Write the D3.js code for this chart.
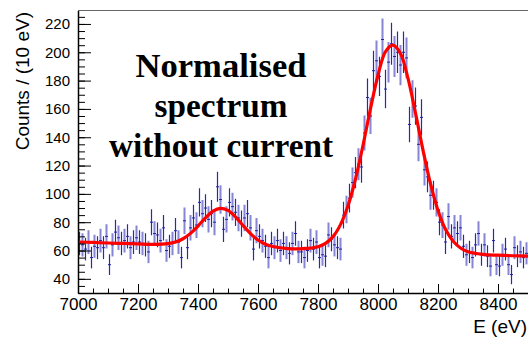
<!DOCTYPE html>
<html>
<head>
<meta charset="utf-8">
<script src="https://cdn.jsdelivr.net/npm/d3@7"></script>
<style>
  html, body { margin: 0; padding: 0; background: #fff; }
  svg { display: block; }
</style>
</head>
<body>
<svg id="chart" width="528" height="340"></svg>
<script>
// ---- data ----
const binStart = 7000;   // first bin lower edge (eV)
const binWidth = 10;     // eV per bin
const counts = [
  65, 64, 61, 66, 55, 63, 62, 67, 62, 70, 50, 64, 73, 69, 65, 67, 70, 62, 66, 69, 66, 65, 64, 59, 80,
  72, 71, 67, 76, 60, 63, 65, 74, 66, 55, 81, 62, 76, 83, 78, 94, 86, 90, 82, 86, 80, 105, 96, 75, 82,
  94, 91, 87, 83, 79, 83, 86, 76, 61, 74, 70, 67, 63, 55, 65, 62, 67, 60, 65, 62, 58, 65, 72, 59, 59,
  55, 60, 67, 61, 66, 55, 57, 56, 71, 68, 64, 62, 61, 85, 89, 97, 108, 115, 121, 119, 143, 168, 155, 187, 194,
  183, 209, 174, 193, 206, 197, 200, 191, 200, 196, 149, 167, 162, 135, 154, 117, 112, 99, 99, 94, 80, 78, 66, 84, 70,
  76, 72, 76, 63, 57, 59, 55, 64, 72, 57, 64, 56, 49, 67, 50, 49, 57, 61, 50, 43, 62, 56, 59, 55, 58
];
const errors = [
  8.3, 8.2, 8.0, 8.4, 7.6, 8.2, 8.1, 8.4, 8.1, 8.6, 7.3, 8.2, 8.8, 8.6, 8.3, 8.4, 8.6, 8.1, 8.4, 8.6, 8.4, 8.3, 8.2, 7.9, 9.2,
  8.7, 8.7, 8.4, 9.0, 8.0, 8.2, 8.3, 8.9, 8.4, 7.6, 9.3, 8.1, 9.0, 9.4, 9.1, 10.0, 9.6, 9.8, 9.3, 9.6, 9.2, 10.6, 10.1, 8.9, 9.3,
  10.0, 9.8, 9.6, 9.4, 9.2, 9.4, 9.6, 9.0, 8.0, 8.9, 8.6, 8.4, 8.2, 7.6, 8.3, 8.1, 8.4, 8.0, 8.3, 8.1, 7.8, 8.3, 8.7, 7.9, 7.9,
  7.6, 8.0, 8.4, 8.0, 8.4, 7.6, 7.8, 7.7, 8.7, 8.5, 8.2, 8.1, 8.0, 9.5, 9.7, 10.1, 10.7, 11.0, 11.3, 11.2, 12.3, 13.4, 12.8, 14.1, 14.3,
  13.9, 14.9, 13.6, 14.3, 14.8, 14.5, 14.6, 14.2, 14.6, 14.4, 12.6, 13.3, 13.1, 12.0, 12.8, 11.1, 10.9, 10.2, 10.2, 10.0, 9.2, 9.1, 8.4, 9.4, 8.6,
  9.0, 8.7, 9.0, 8.2, 7.8, 7.9, 7.6, 8.2, 8.7, 7.8, 8.2, 7.7, 7.2, 8.4, 7.3, 7.2, 7.8, 8.0, 7.3, 6.8, 8.1, 7.7, 7.9, 7.6, 7.8
];
const fitE = [7000, 7050, 7100, 7150, 7200, 7250, 7300, 7325, 7350, 7375, 7400, 7425, 7450, 7475, 7500, 7525, 7550, 7575, 7600, 7625, 7650, 7700, 7750, 7800, 7825, 7850, 7875, 7900, 7925, 7950, 7975, 8000, 8025, 8050, 8075, 8100, 8125, 8150, 8175, 8200, 8225, 8250, 8275, 8300, 8350, 8400, 8450, 8500];
const fitY = [66.0, 65.7, 65.3, 65.0, 64.7, 64.4, 64.9, 66.0, 68.3, 72.1, 77.3, 83.1, 87.8, 89.8, 88.3, 83.8, 77.7, 72.0, 67.4, 64.4, 62.8, 61.4, 61.3, 62.7, 65.1, 69.8, 78.3, 91.6, 110.5, 134.3, 160.2, 183.8, 200.5, 205.0, 199.1, 181.5, 157.0, 130.9, 107.2, 88.3, 75.0, 66.7, 61.8, 59.2, 57.3, 56.7, 56.3, 56.0];
const xTickValues = [7000, 7200, 7400, 7600, 7800, 8000, 8200, 8400];
const yTickValues = [40, 60, 80, 100, 120, 140, 160, 180, 200, 220];
const titleLines = ["Normalised", "spectrum", "without current"];
const xTitle = "E (eV)";
const yTitle = "Counts / (10 eV)";

// ---- layout ----
const L = 78, R = 528, T = 10.5, B = 293;
const svg = d3.select("#chart");
const x = d3.scaleLinear().domain([7000, 8500]).range([L, R]);
const y = d3.scaleLinear().domain([30, 229.5]).range([B, T]);

svg.append("defs").append("clipPath").attr("id", "plotclip")
  .append("rect").attr("x", L).attr("y", T).attr("width", R - L).attr("height", B - T);

// frame top line
svg.append("line").attr("x1", L).attr("x2", R).attr("y1", T).attr("y2", T)
  .attr("stroke", "#666").attr("stroke-width", 1);

// data
const bins = counts.map((c, i) => ({
  lo: binStart + i * binWidth, hi: binStart + (i + 1) * binWidth,
  mid: binStart + (i + 0.5) * binWidth, v: c, e: errors[i], i
}));
const gData = svg.append("g").attr("clip-path", "url(#plotclip)");
gData.selectAll("line.err").data(bins).join("line").attr("class", "err")
  .attr("x1", d => x(d.mid)).attr("x2", d => x(d.mid))
  .attr("y1", d => y(d.v - d.e)).attr("y2", d => y(d.v + d.e))
  .attr("stroke", d => d.i % 2 ? "#8686d2" : "#2828b4")
  .attr("stroke-width", d => d.i % 2 ? 2 : 1.2);
gData.selectAll("line.bw").data(bins).join("line").attr("class", "bw")
  .attr("x1", d => x(d.lo)).attr("x2", d => x(d.hi))
  .attr("y1", d => y(d.v)).attr("y2", d => y(d.v))
  .attr("stroke", "#2020a8").attr("stroke-width", 1);

// fit curve
const fitPts = fitE.map((e, i) => [e, fitY[i]]);
gData.append("path").datum(fitPts)
  .attr("d", d3.line().x(d => x(d[0])).y(d => y(d[1])).curve(d3.curveCatmullRom.alpha(0.5)))
  .attr("fill", "none").attr("stroke", "#ff0000").attr("stroke-width", 3.2);

// axes
const font = "'Liberation Sans', Arial, Helvetica, sans-serif";
const yMinor = d3.range(30, 230, 5);
svg.append("g").attr("transform", `translate(${L},0)`)
  .call(d3.axisLeft(y).tickValues(yMinor).tickSize(-7).tickSizeOuter(0).tickFormat(""))
  .call(g => g.select(".domain").remove())
  .selectAll("line").attr("stroke", "#000");
const yAx = svg.append("g").attr("transform", `translate(${L},0)`)
  .call(d3.axisLeft(y).tickValues(yTickValues).tickSize(-13).tickSizeOuter(0).tickPadding(8));
yAx.select(".domain").attr("stroke", "#000").attr("stroke-width", 1.5);
yAx.selectAll("text").attr("font-family", font).attr("font-size", 15).attr("fill", "#000");

const xMinor = d3.range(7000, 8501, 50);
svg.append("g").attr("transform", `translate(0,${B})`)
  .call(d3.axisBottom(x).tickValues(xMinor).tickSize(-4.5).tickSizeOuter(0).tickFormat(""))
  .call(g => g.select(".domain").remove())
  .selectAll("line").attr("stroke", "#000");
const xAx = svg.append("g").attr("transform", `translate(0,${B})`)
  .call(d3.axisBottom(x).tickValues(xTickValues).tickSize(-9).tickSizeOuter(0).tickPadding(6).tickFormat(d3.format("d")));
xAx.select(".domain").attr("stroke", "#000").attr("stroke-width", 1.5);
xAx.selectAll("text").attr("font-family", font).attr("font-size", 16).attr("fill", "#000")
  .attr("textLength", 38).attr("lengthAdjust", "spacingAndGlyphs");

// axis titles
svg.append("text").attr("transform", "translate(29,12) rotate(-90)")
  .attr("text-anchor", "end").attr("font-family", font).attr("font-size", 19).text(yTitle);
svg.append("text").attr("x", 527).attr("y", 333)
  .attr("text-anchor", "end").attr("font-family", font).attr("font-size", 19).text(xTitle);

// annotation
const titleW = [171, 133, 224];
const titleY = [77, 117, 157];
svg.selectAll("text.ann").data(titleLines).join("text").attr("class", "ann")
  .attr("x", 221).attr("y", (d, i) => titleY[i]).attr("text-anchor", "middle")
  .attr("font-family", "'Liberation Serif', 'Times New Roman', serif")
  .attr("font-weight", "bold").attr("font-size", 33)
  .attr("textLength", (d, i) => titleW[i]).attr("lengthAdjust", "spacingAndGlyphs")
  .text(d => d);
</script>
</body>
</html>
